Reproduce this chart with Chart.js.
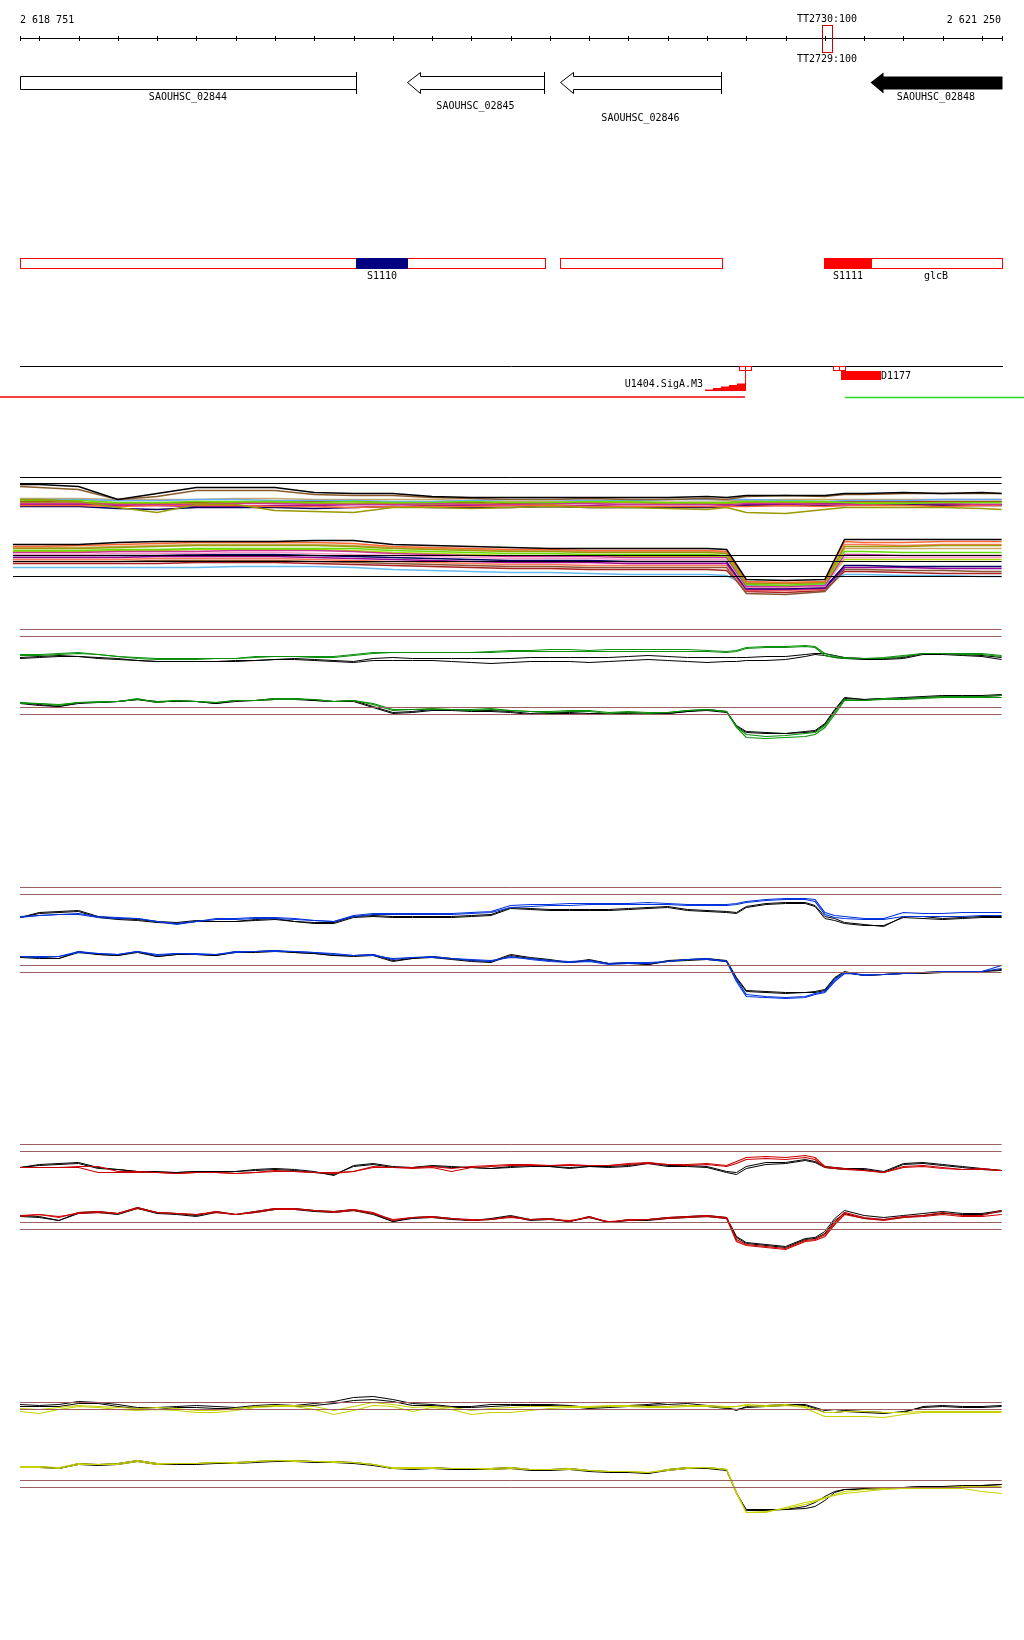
<!DOCTYPE html>
<html><head><meta charset="utf-8">
<script src="https://cdn.jsdelivr.net/npm/chart.js@4.4.0/dist/chart.umd.min.js"></script>
<style>
html,body{margin:0;padding:0;background:#fff;}
body{width:1024px;height:1640px;position:relative;overflow:hidden;}
canvas{position:absolute;left:0;}
</style></head><body>
<canvas id="cTop" width="1024" height="420" style="top:0px"></canvas>
<canvas id="cBundle" width="1024" height="150" style="top:460px"></canvas>
<canvas id="cGreen" width="1024" height="200" style="top:610px"></canvas>
<canvas id="cBlue" width="1024" height="200" style="top:868px"></canvas>
<canvas id="cRed" width="1024" height="200" style="top:1125px"></canvas>
<canvas id="cYellow" width="1024" height="200" style="top:1383px"></canvas>
<script>
// ---------------- DATA ----------------
const viewStart = 2618751, viewEnd = 2621250;
const rulerLabels = ['2 618 751', '2 621 250'];
const rulerTicks = [2618800,2618900,2619000,2619100,2619200,2619300,2619400,2619500,2619600,2619700,2619800,2619900,2620000,2620100,2620200,2620300,2620400,2620500,2620600,2620700,2620800,2620900,2621000,2621100,2621200];
const ttLabels = ['TT2730:100', 'TT2729:100'];
const ttPos = 2620805;

const geneNames = ['SAOUHSC_02844','SAOUHSC_02845','SAOUHSC_02846','SAOUHSC_02848'];
const geneStart = [2618400, 2619736, 2620126, 2620915];
const geneEnd   = [2619606, 2620085, 2620536, 2621600];
const geneFilled = [false, false, false, true];

const tuStart = [2618751, 2620126, 2620798];
const tuEnd   = [2620088, 2620538, 2621250];
const siteNames = ['S1110', 'S1111'];
const siteStart = [2619606, 2620798];
const siteEnd   = [2619739, 2620920];
const regionLabels = ['glcB'];
const regionStart = [2620915];
const regionEnd = [2621250];

const promoterPos = [2620597, 2620836];
const sigAName = 'U1404.SigA.M3';
const sigAPos = 2620597;
const dName = 'D1177';
const dStart = 2620842, dEnd = 2620942;
const redCoverage = [2618600, 2620597];
const greenCoverage = [2620851, 2621400];

// positions (bp) of the profile samples
const posFine = [2618751,2618800,2618850,2618900,2618950,2619000,2619050,2619100,2619150,2619200,2619250,2619300,2619350,2619400,2619450,2619500,2619550,2619600,2619650,2619700,2619750,2619800,2619850,2619900,2619950,2620000,2620050,2620100,2620150,2620200,2620250,2620300,2620350,2620400,2620450,2620500,2620550,2620575,2620600,2620650,2620700,2620750,2620775,2620800,2620825,2620850,2620900,2620950,2621000,2621050,2621100,2621150,2621200,2621250];
const posBundle = [2618751,2618800,2618900,2619000,2619100,2619200,2619300,2619400,2619500,2619600,2619700,2619800,2619900,2620000,2620100,2620200,2620300,2620400,2620500,2620550,2620600,2620700,2620800,2620850,2620900,2621000,2621100,2621200,2621250];
const lowerBundleStart = 2618733;

// bundle thresholds
const bundleUpperLevels = [13.2, 12.6];
const bundleLowerLevels = [5.4, 4.8, 3.3];

// upper bundle series
const bu1 = [12.5,12.5,12.3,11.0,11.6,12.2,12.2,12.2,11.7,11.6,11.6,11.3,11.2,11.2,11.2,11.2,11.2,11.2,11.3,11.2,11.4,11.4,11.4,11.6,11.6,11.7,11.6,11.7,11.6];
const bu2 = [12.3,12.2,12.0,11.0,11.3,11.9,11.9,11.9,11.5,11.4,11.4,11.2,11.1,11.0,11.0,11.1,11.0,11.0,11.1,11.0,11.3,11.4,11.3,11.5,11.5,11.6,11.6,11.6,11.6];
const bu3 = [11.0,11.0,10.8,10.2,9.7,10.5,10.5,9.9,9.8,9.7,10.2,10.2,10.1,10.2,10.3,10.2,10.2,10.1,10.0,10.2,9.7,9.6,10.0,10.2,10.2,10.2,10.2,10.1,10.0];
const bu4 = [10.9,10.9,10.9,10.7,10.7,10.8,10.8,10.8,10.7,10.8,10.7,10.7,10.8,10.7,10.7,10.8,10.8,10.7,10.7,10.7,10.8,10.8,10.8,10.7,10.6,10.6,10.7,10.7,10.7];
const bu5 = [11.0,11.0,11.0,10.9,10.9,11.0,11.0,10.9,10.9,10.9,10.8,10.8,10.9,11.0,11.0,10.9,10.9,11.0,11.0,11.0,11.0,10.9,10.8,10.9,10.9,10.9,11.0,11.0,11.0];
const bu6 = [10.6,10.6,10.6,10.5,10.5,10.5,10.6,10.6,10.5,10.5,10.5,10.6,10.5,10.5,10.6,10.6,10.5,10.5,10.5,10.4,10.6,10.6,10.5,10.5,10.5,10.6,10.6,10.5,10.5];
const bu7 = [10.4,10.4,10.4,10.3,10.4,10.4,10.4,10.3,10.3,10.2,10.3,10.3,10.3,10.4,10.4,10.3,10.3,10.3,10.3,10.3,10.3,10.4,10.3,10.4,10.4,10.4,10.3,10.4,10.4];
const bu8 = [10.3,10.3,10.3,10.1,10.0,10.2,10.2,10.2,10.1,10.2,10.3,10.2,10.2,10.2,10.3,10.2,10.2,10.2,10.2,10.3,10.4,10.4,10.4,10.4,10.5,10.5,10.4,10.4,10.4];
const bu9 = [10.7,10.7,10.7,10.6,10.6,10.6,10.7,10.7,10.6,10.6,10.6,10.5,10.6,10.5,10.5,10.7,10.7,10.6,10.6,10.6,10.7,10.7,10.7,10.7,10.7,10.7,10.7,10.7,10.7];
const bu10 = [10.5,10.5,10.5,10.4,10.4,10.3,10.3,10.4,10.4,10.5,10.5,10.4,10.4,10.4,10.4,10.4,10.5,10.5,10.5,10.5,10.5,10.5,10.6,10.6,10.6,10.6,10.5,10.5,10.5];
const bu11 = [11.1,11.1,11.1,11.0,11.0,11.0,11.1,11.1,11.0,11.0,11.0,11.0,10.9,10.8,10.8,10.9,10.9,11.0,11.0,10.9,10.9,11.0,11.0,11.0,11.0,11.0,11.0,11.0,11.0];
const bu12 = [10.8,10.8,10.7,10.5,10.6,10.7,10.7,10.7,10.8,10.8,10.7,10.7,10.7,10.6,10.6,10.7,10.7,10.7,10.7,10.7,10.8,10.7,10.7,10.8,10.8,10.8,10.8,10.8,10.8];

// lower bundle series
const bl1 = [6.5,6.5,6.5,6.7,6.8,6.8,6.8,6.8,6.9,6.9,6.5,6.4,6.3,6.2,6.1,6.1,6.1,6.1,6.1,6.0,3.0,2.9,3.0,7.0,7.0,7.0,7.0,7.0,7.0];
const bl2 = [6.3,6.3,6.4,6.5,6.6,6.7,6.7,6.7,6.7,6.6,6.3,6.2,6.1,6.0,6.0,5.9,5.9,5.9,5.9,5.8,2.8,2.7,2.8,6.8,6.7,6.7,6.8,6.8,6.8];
const bl3 = [6.1,6.1,6.1,6.2,6.3,6.4,6.4,6.4,6.4,6.3,6.1,6.0,5.9,5.8,5.8,5.7,5.7,5.7,5.7,5.6,2.6,2.6,2.7,6.3,6.3,6.3,6.4,6.4,6.4];
const bl4 = [5.9,5.9,5.9,6.0,6.0,6.1,6.1,6.1,6.1,6.1,5.9,5.8,5.7,5.6,5.6,5.5,5.5,5.5,5.5,5.4,2.5,2.4,2.6,5.8,5.8,5.7,5.7,5.7,5.7];
const bl5 = [5.7,5.7,5.7,5.8,5.8,5.8,5.9,5.9,5.9,5.8,5.6,5.5,5.4,5.3,5.3,5.3,5.2,5.2,5.2,5.2,2.3,2.3,2.4,5.5,5.5,5.4,5.4,5.4,5.4];
const bl6 = [5.5,5.5,5.5,5.6,5.6,5.6,5.7,5.7,5.6,5.5,5.4,5.3,5.2,5.1,5.1,5.1,5.0,5.0,5.0,5.0,2.2,2.2,2.3,5.2,5.2,5.2,5.2,5.2,5.2];
const bl7 = [5.4,5.4,5.4,5.4,5.4,5.5,5.5,5.5,5.4,5.3,5.2,5.1,5.0,4.9,4.9,4.9,4.8,4.8,4.8,4.8,2.1,2.1,2.2,4.4,4.4,4.3,4.3,4.3,4.3];
const bl8 = [5.2,5.2,5.2,5.2,5.3,5.3,5.3,5.3,5.2,5.1,5.0,4.9,4.8,4.7,4.7,4.7,4.6,4.6,4.6,4.6,2.0,2.0,2.1,4.2,4.2,4.2,4.1,4.1,4.1];
const bl9 = [5.0,5.0,5.0,5.0,5.1,5.1,5.1,5.1,5.0,4.9,4.8,4.7,4.6,4.5,4.5,4.4,4.4,4.4,4.4,4.4,1.9,1.9,2.0,6.5,6.5,6.4,6.5,6.5,6.5];
const bl10 = [6.2,6.2,6.2,6.3,6.4,6.5,6.5,6.5,6.5,6.4,6.2,6.1,6.0,5.9,5.9,5.8,5.8,5.8,5.8,5.7,2.7,2.6,2.7,6.1,6.1,6.1,6.1,6.1,6.1];
const bl11 = [4.8,4.8,4.8,4.8,4.9,4.9,4.9,4.9,4.8,4.7,4.6,4.5,4.4,4.3,4.3,4.2,4.2,4.2,4.2,4.2,1.6,1.5,1.8,4.0,4.0,3.9,3.9,3.8,3.8];
const bl12 = [4.2,4.2,4.2,4.2,4.2,4.2,4.3,4.3,4.3,4.2,4.0,3.9,3.8,3.7,3.7,3.6,3.5,3.5,3.5,3.4,2.4,2.4,2.5,3.5,3.5,3.4,3.4,3.3,3.3];
const bl13 = [4.6,4.6,4.6,4.6,4.6,4.7,4.7,4.7,4.6,4.5,4.4,4.3,4.2,4.1,4.1,4.0,4.0,4.0,4.0,3.9,1.8,1.7,1.9,3.8,3.8,3.7,3.6,3.6,3.6];
const bl14 = [5.8,5.8,5.8,5.9,5.9,6.0,6.0,6.0,6.0,5.9,5.7,5.6,5.5,5.4,5.4,5.4,5.3,5.3,5.3,5.3,2.4,2.4,2.5,5.0,5.0,5.0,5.0,5.0,5.0];

// panel thresholds (same for every panel)
const panelThresholds = [18.0, 17.3, 10.2, 9.5];

// green panel
const gUpC1 = [15.5,15.5,15.6,15.7,15.5,15.3,15.2,15.1,15.1,15.1,15.1,15.1,15.3,15.3,15.3,15.3,15.3,15.5,15.7,15.7,15.7,15.7,15.7,15.7,15.8,15.9,15.9,16.0,16.0,15.9,16.0,16.0,16.0,16.0,16.0,15.9,15.8,15.9,16.2,16.3,16.3,16.4,16.3,15.6,15.3,15.2,15.1,15.2,15.4,15.6,15.6,15.6,15.6,15.4];
const gUpC2 = [15.4,15.4,15.5,15.6,15.5,15.3,15.1,15.0,15.0,15.0,15.1,15.1,15.2,15.3,15.3,15.2,15.2,15.4,15.6,15.7,15.7,15.7,15.7,15.7,15.7,15.8,15.8,15.8,15.8,15.8,15.8,15.8,15.8,15.8,15.8,15.8,15.7,15.8,16.1,16.2,16.2,16.3,16.2,15.4,15.2,15.1,15.1,15.1,15.3,15.6,15.6,15.5,15.5,15.3];
const gUpK1 = [15.2,15.3,15.4,15.3,15.2,15.1,14.9,14.8,14.8,14.8,14.8,14.9,14.9,15.0,15.1,15.0,14.9,14.8,15.1,15.2,15.1,15.1,15.1,15.1,15.1,15.1,15.2,15.2,15.2,15.2,15.2,15.3,15.4,15.3,15.2,15.2,15.2,15.2,15.2,15.3,15.3,15.5,15.6,15.6,15.4,15.2,15.1,15.1,15.2,15.6,15.6,15.5,15.4,15.2];
const gUpK2 = [15.1,15.2,15.3,15.3,15.1,15.0,14.9,14.8,14.8,14.8,14.8,14.8,14.9,15.0,15.0,14.9,14.8,14.7,14.9,14.9,14.9,14.9,14.8,14.7,14.6,14.7,14.8,14.8,14.8,14.7,14.8,14.9,15.0,14.9,14.8,14.7,14.8,14.8,14.9,14.9,15.0,15.3,15.5,15.4,15.2,15.1,15.0,15.0,15.1,15.5,15.5,15.4,15.3,15.0];
const gLoC1 = [10.7,10.6,10.4,10.7,10.8,10.8,11.1,10.7,10.9,10.8,10.7,10.9,10.9,11.1,11.1,11.0,10.8,10.9,10.5,9.9,10.0,10.1,10.0,10.0,10.1,9.9,9.8,9.7,9.8,9.8,9.6,9.7,9.6,9.7,9.9,10.0,9.8,8.3,7.5,7.3,7.4,7.6,7.7,8.4,9.7,11.0,10.9,11.1,11.1,11.2,11.3,11.3,11.3,11.4];
const gLoC2 = [10.6,10.6,10.5,10.7,10.7,10.8,11.0,10.8,10.9,10.8,10.7,10.9,10.9,11.0,11.0,11.0,10.8,10.9,10.6,10.0,10.0,10.0,10.0,9.9,10.0,9.9,9.8,9.8,9.9,9.9,9.7,9.8,9.7,9.7,9.9,10.0,9.8,8.2,7.2,7.1,7.2,7.3,7.5,8.2,9.5,10.9,10.9,11.0,11.0,11.1,11.2,11.2,11.2,11.2];
const gLoK1 = [10.7,10.5,10.3,10.7,10.7,10.8,11.0,10.7,10.9,10.8,10.6,10.9,10.9,11.1,11.1,10.9,10.8,10.9,10.3,9.7,9.8,10.0,10.0,9.9,9.9,9.8,9.6,9.7,9.7,9.6,9.6,9.7,9.6,9.6,9.8,10.0,9.8,8.4,7.8,7.7,7.6,7.8,7.9,8.6,10.0,11.2,11.0,11.1,11.2,11.3,11.4,11.4,11.4,11.5];
const gLoK2 = [10.6,10.4,10.3,10.6,10.7,10.8,11.0,10.8,10.8,10.8,10.6,10.8,10.9,11.0,11.0,10.9,10.8,10.8,10.2,9.6,9.7,9.9,9.9,9.8,9.8,9.7,9.5,9.6,9.6,9.5,9.6,9.6,9.5,9.6,9.8,9.9,9.7,8.3,7.7,7.6,7.6,7.7,7.8,8.5,9.9,11.1,11.0,11.1,11.1,11.2,11.3,11.3,11.3,11.4];

// blue panel
const bUpC1 = [15.1,15.2,15.3,15.4,15.1,15.0,14.9,14.6,14.3,14.6,14.9,14.9,15.0,15.0,14.9,14.7,14.6,15.2,15.4,15.4,15.4,15.4,15.4,15.5,15.6,16.2,16.3,16.3,16.4,16.4,16.4,16.4,16.5,16.4,16.3,16.3,16.3,16.4,16.6,16.8,16.9,16.9,16.8,15.5,15.2,15.1,14.9,14.9,15.5,15.4,15.4,15.5,15.5,15.5];
const bUpC2 = [15.0,15.2,15.3,15.3,15.0,14.9,14.9,14.6,14.4,14.6,14.8,14.8,14.9,14.9,14.8,14.7,14.6,15.1,15.3,15.3,15.3,15.3,15.3,15.4,15.5,16.0,16.1,16.2,16.2,16.3,16.3,16.3,16.3,16.3,16.2,16.2,16.2,16.3,16.5,16.7,16.8,16.8,16.6,15.3,15.0,14.9,14.8,14.8,15.1,15.1,15.1,15.1,15.2,15.2];
const bUpK1 = [15.0,15.5,15.6,15.7,15.1,14.9,14.8,14.6,14.5,14.7,14.6,14.6,14.8,14.9,14.6,14.5,14.5,15.1,15.2,15.1,15.1,15.1,15.1,15.2,15.3,16.0,15.9,15.8,15.8,15.8,15.8,15.9,16.0,16.1,15.8,15.7,15.6,15.5,16.1,16.4,16.5,16.5,16.2,15.1,14.9,14.5,14.3,14.1,15.1,15.1,14.9,15.0,15.1,15.1];
const bUpK2 = [15.0,15.4,15.5,15.6,15.0,14.8,14.7,14.5,14.4,14.6,14.6,14.6,14.7,14.8,14.6,14.4,14.4,15.0,15.1,15.0,15.0,15.0,15.0,15.1,15.2,15.9,15.8,15.7,15.7,15.7,15.7,15.8,15.9,16.0,15.7,15.6,15.5,15.4,16.0,16.3,16.4,16.4,16.1,14.9,14.7,14.4,14.2,14.2,15.0,14.9,14.8,14.9,15.0,15.0];
const bLoC1 = [11.1,11.1,11.1,11.6,11.4,11.3,11.6,11.2,11.4,11.4,11.3,11.6,11.6,11.7,11.6,11.5,11.3,11.2,11.3,10.8,11.0,11.1,10.9,10.7,10.6,11.1,10.8,10.6,10.5,10.6,10.3,10.4,10.4,10.6,10.8,10.9,10.6,8.8,7.3,7.1,7.0,7.1,7.4,7.6,8.8,9.5,9.2,9.3,9.4,9.5,9.6,9.6,9.6,10.2];
const bLoC2 = [11.1,11.0,11.1,11.5,11.4,11.3,11.6,11.3,11.4,11.3,11.3,11.5,11.6,11.6,11.6,11.5,11.4,11.2,11.2,10.9,11.0,11.0,10.9,10.8,10.7,11.0,10.9,10.7,10.6,10.7,10.4,10.5,10.5,10.6,10.8,10.8,10.6,8.6,7.1,7.0,6.9,7.0,7.3,7.5,8.6,9.4,9.3,9.3,9.4,9.5,9.5,9.6,9.6,9.9];
const bLoK1 = [11.1,11.0,10.9,11.6,11.3,11.2,11.6,11.1,11.3,11.3,11.2,11.6,11.6,11.7,11.5,11.4,11.2,11.2,11.3,10.7,10.9,11.1,10.9,10.7,10.6,11.3,11.0,10.8,10.5,10.8,10.4,10.5,10.3,10.7,10.8,10.9,10.7,9.0,7.7,7.6,7.5,7.5,7.6,7.8,9.0,9.6,9.2,9.3,9.4,9.5,9.6,9.6,9.6,9.8];
const bLoK2 = [11.0,10.9,10.9,11.5,11.3,11.2,11.5,11.1,11.3,11.3,11.2,11.5,11.5,11.6,11.5,11.4,11.2,11.1,11.2,10.6,10.9,11.0,10.8,10.6,10.5,11.2,10.9,10.7,10.5,10.7,10.4,10.4,10.3,10.6,10.7,10.8,10.6,8.9,7.6,7.5,7.4,7.5,7.5,7.7,8.9,9.5,9.2,9.3,9.4,9.4,9.5,9.6,9.6,9.7];

// red panel
const rUpC1 = [15.7,15.7,15.7,15.8,15.8,15.3,15.3,15.2,15.1,15.2,15.2,15.1,15.2,15.4,15.3,15.2,15.2,15.3,15.8,15.7,15.7,15.8,15.6,15.8,15.9,16.0,16.0,15.9,16.0,15.9,15.9,16.1,16.2,16.0,16.0,16.1,15.9,16.3,16.7,16.8,16.7,16.9,16.7,15.8,15.7,15.6,15.4,15.2,15.8,15.9,15.7,15.5,15.6,15.4];
const rUpC2 = [15.7,15.7,15.7,15.7,15.2,15.2,15.2,15.2,15.1,15.2,15.2,15.1,15.2,15.3,15.3,15.2,15.1,15.3,15.7,15.7,15.6,15.7,15.3,15.7,15.8,15.9,15.9,15.9,15.9,15.9,15.9,16.0,16.1,16.0,15.9,16.0,15.8,16.1,16.5,16.6,16.5,16.7,16.5,15.7,15.6,15.5,15.4,15.2,15.7,15.8,15.6,15.5,15.5,15.4];
const rUpK1 = [15.7,16.0,16.1,16.2,15.7,15.5,15.3,15.2,15.2,15.3,15.3,15.3,15.5,15.6,15.5,15.3,14.9,15.9,16.1,15.8,15.7,15.9,15.8,15.7,15.6,15.8,15.9,15.8,15.7,15.8,15.8,15.9,16.2,15.9,15.9,15.8,15.3,15.2,15.8,16.2,16.2,16.5,16.3,15.8,15.7,15.6,15.6,15.3,16.1,16.2,16.0,15.8,15.6,15.4];
const rUpK2 = [15.7,15.9,16.0,16.1,15.6,15.5,15.3,15.3,15.2,15.3,15.2,15.3,15.4,15.5,15.4,15.2,15.0,15.8,16.0,15.7,15.7,15.8,15.7,15.7,15.6,15.7,15.8,15.8,15.6,15.8,15.7,15.8,16.1,15.8,15.8,15.7,15.2,15.0,15.6,16.0,16.1,16.4,16.2,15.7,15.6,15.5,15.5,15.2,16.0,16.1,15.9,15.7,15.5,15.4];
const rLoC1 = [10.9,11.0,10.7,11.2,11.3,11.1,11.7,11.2,11.1,11.0,11.3,11.0,11.3,11.6,11.6,11.4,11.3,11.5,11.2,10.4,10.7,10.8,10.6,10.4,10.5,10.8,10.5,10.6,10.3,10.8,10.2,10.5,10.5,10.7,10.8,10.9,10.7,8.5,8.0,7.8,7.6,8.4,8.5,9.0,10.2,11.2,10.7,10.5,10.8,10.9,11.2,10.9,10.9,11.4];
const rLoC2 = [10.8,11.0,10.8,11.1,11.2,11.1,11.6,11.2,11.1,11.0,11.2,11.0,11.2,11.5,11.5,11.4,11.2,11.4,11.1,10.5,10.7,10.7,10.6,10.5,10.5,10.7,10.5,10.5,10.4,10.7,10.3,10.4,10.5,10.6,10.7,10.8,10.6,8.3,7.9,7.7,7.5,8.3,8.4,8.8,10.0,11.0,10.6,10.4,10.7,10.8,11.0,10.8,10.8,11.0];
const rLoK1 = [10.9,10.8,10.4,11.2,11.3,11.1,11.7,11.2,11.1,10.9,11.3,11.0,11.3,11.6,11.6,11.4,11.3,11.5,11.1,10.3,10.7,10.8,10.6,10.4,10.6,10.9,10.5,10.6,10.3,10.8,10.2,10.5,10.5,10.7,10.8,10.9,10.7,8.8,8.2,8.0,7.8,8.6,8.7,9.3,10.6,11.4,10.9,10.7,10.9,11.1,11.3,11.1,11.1,11.4];
const rLoK2 = [10.8,10.7,10.4,11.1,11.2,11.0,11.6,11.1,11.0,10.8,11.2,11.0,11.2,11.5,11.5,11.3,11.2,11.4,11.0,10.3,10.6,10.7,10.5,10.4,10.5,10.8,10.4,10.5,10.3,10.7,10.2,10.4,10.4,10.6,10.7,10.8,10.6,8.7,8.1,7.9,7.7,8.5,8.6,9.1,10.4,11.1,10.6,10.5,10.7,10.9,11.1,11.0,11.0,11.3];

// yellow panel
const yUpC1 = [17.1,16.9,17.3,17.6,17.5,17.3,17.2,17.3,17.2,17.0,17.0,17.2,17.5,17.6,17.6,17.3,16.8,17.2,17.7,17.6,17.1,17.5,17.3,16.8,17.0,17.0,17.2,17.4,17.5,17.5,17.6,17.6,17.5,17.5,17.6,17.6,17.5,17.6,17.7,17.6,17.7,17.5,17.0,16.6,16.6,16.6,16.6,16.5,16.8,17.0,17.0,17.0,17.0,17.0];
const yUpC2 = [17.4,17.3,17.5,17.7,17.6,17.5,17.4,17.5,17.4,17.2,17.2,17.4,17.6,17.7,17.7,17.6,17.2,17.6,18.0,17.8,17.5,17.6,17.5,17.2,17.4,17.5,17.6,17.6,17.6,17.6,17.7,17.7,17.6,17.6,17.7,17.7,17.6,17.6,17.8,17.7,17.8,17.6,17.3,17.0,17.0,17.1,17.1,17.0,17.0,17.1,17.1,17.1,17.1,17.1];
const yUpK1 = [17.8,17.7,17.8,18.1,18.0,17.8,17.5,17.5,17.6,17.7,17.6,17.5,17.7,17.8,17.7,17.9,18.1,18.5,18.6,18.3,17.9,17.8,17.6,17.6,17.8,17.8,17.8,17.8,17.7,17.5,17.6,17.7,17.8,18.0,17.9,17.7,17.5,17.2,17.6,17.7,17.8,17.8,17.5,17.2,17.3,17.2,17.1,17.0,17.0,17.6,17.7,17.6,17.6,17.7];
const yUpK2 = [17.6,17.6,17.6,17.9,17.9,17.6,17.4,17.3,17.5,17.5,17.4,17.4,17.6,17.6,17.6,17.7,17.9,18.2,18.3,18.1,17.7,17.7,17.5,17.5,17.6,17.7,17.7,17.7,17.6,17.4,17.5,17.6,17.7,17.8,17.7,17.6,17.4,17.3,17.5,17.6,17.7,17.7,17.4,17.0,17.0,17.1,17.0,16.9,17.1,17.5,17.6,17.5,17.5,17.6];
const yLoC1 = [11.6,11.6,11.5,11.9,11.8,11.9,12.2,11.9,11.9,11.9,12.0,12.0,12.1,12.2,12.2,12.1,12.1,12.0,11.8,11.5,11.5,11.5,11.4,11.4,11.4,11.5,11.3,11.3,11.4,11.2,11.1,11.1,11.0,11.3,11.5,11.5,11.3,9.0,7.0,7.0,7.5,8.0,8.2,8.5,8.7,8.9,9.1,9.3,9.4,9.4,9.4,9.4,9.1,8.9];
const yLoC2 = [11.5,11.5,11.4,11.8,11.8,11.8,12.1,11.8,11.9,11.9,12.0,11.9,12.1,12.2,12.1,12.1,12.0,12.0,11.8,11.4,11.4,11.4,11.4,11.4,11.3,11.4,11.3,11.3,11.3,11.2,11.1,11.1,11.0,11.2,11.4,11.5,11.3,8.9,7.0,7.1,7.4,7.8,8.1,8.4,8.8,9.1,9.3,9.4,9.5,9.5,9.5,9.6,9.6,9.6];
const yLoK1 = [11.6,11.6,11.4,11.9,11.8,11.9,12.2,11.9,11.9,11.9,12.0,12.0,12.1,12.2,12.2,12.1,12.1,12.0,11.8,11.4,11.4,11.5,11.4,11.4,11.4,11.5,11.3,11.3,11.4,11.2,11.1,11.1,10.9,11.3,11.5,11.5,11.3,9.0,7.2,7.2,7.3,7.6,8.0,8.6,9.1,9.3,9.4,9.5,9.5,9.6,9.6,9.6,9.7,9.8];
const yLoK2 = [11.5,11.5,11.4,11.8,11.7,11.8,12.1,11.8,11.8,11.8,11.9,11.9,12.0,12.1,12.1,12.0,12.0,11.9,11.7,11.4,11.3,11.4,11.3,11.3,11.3,11.4,11.2,11.2,11.3,11.1,11.0,11.0,10.9,11.2,11.4,11.4,11.2,8.9,7.3,7.3,7.3,7.4,7.6,8.2,9.0,9.3,9.3,9.4,9.5,9.6,9.6,9.7,9.7,9.8];

// ---------------- STYLE / RENDER ----------------
const SCALE_MIN = 2618700, SCALE_MAX = 2621307;
const BROWN = '#9a5f5f';
const FONT = '10px "DejaVu Sans Mono", monospace';

function pts(xs, ys){ return ys.map((y,i)=>({x: xs[i], y})); }
function lineDs(xs, ys, color, w){
  return {data: pts(xs, ys), borderColor: color, backgroundColor: color, borderWidth: w || 1, pointRadius: 0, fill: false, tension: 0};
}
function hline(x0, x1, v, color){ return lineDs([x0, x1], [v, v], color, 1); }
function opts(ymax){
  // half-pixel shifted range keeps 1px horizontal rules crisp
  return {responsive:false, animation:false, events:[], layout:{padding:0},
    plugins:{legend:{display:false}, tooltip:{enabled:false}, title:{display:false}},
    elements:{point:{radius:0}, line:{tension:0}},
    scales:{x:{type:'linear', min:SCALE_MIN, max:SCALE_MAX, display:false},
            y:{type:'linear', min:-0.05, max:ymax - 0.05, display:false}}};
}

// top annotation tracks
const topPlugin = {
  id: 'genomeTop',
  afterDraw(chart){
    const ctx = chart.ctx, xs = chart.scales.x;
    const X = v => Math.round(xs.getPixelForValue(v));
    const x0 = X(viewStart), x1 = X(viewEnd);
    ctx.save();
    ctx.font = FONT; ctx.textBaseline = 'middle';
    ctx.lineWidth = 1; ctx.strokeStyle = '#000'; ctx.fillStyle = '#000';
    // ruler
    ctx.beginPath(); ctx.moveTo(x0, 38.5); ctx.lineTo(x1 + 1, 38.5);
    [viewStart, ...rulerTicks, viewEnd].forEach(t => { const x = X(t) + 0.5; ctx.moveTo(x, 36); ctx.lineTo(x, 41); });
    ctx.stroke();
    ctx.textAlign = 'left'; ctx.fillText(rulerLabels[0], x0, 20);
    ctx.textAlign = 'right'; ctx.fillText(rulerLabels[1], x1 - 1, 20);
    ctx.textAlign = 'center';
    ctx.fillText(ttLabels[0], X(ttPos), 19);
    ctx.fillText(ttLabels[1], X(ttPos), 59);
    ctx.strokeStyle = '#cc0000';
    ctx.strokeRect(X(ttPos) - 5 + 0.5, 25.5, 10, 27);
    // genes
    const labelY = [97, 106.5, 118, 97];
    geneNames.forEach((name, i) => {
      const tip = X(geneStart[i]), e = X(geneEnd[i]);
      const xl = Math.max(tip, x0), xr = Math.min(e, x1);
      const head = 13;
      ctx.beginPath();
      if (tip >= x0) {
        ctx.moveTo(tip + 0.5, 82.5);
        ctx.lineTo(tip + head + 0.5, 72.5); ctx.lineTo(tip + head + 0.5, 76.5);
        ctx.lineTo(xr + 0.5, 76.5); ctx.lineTo(xr + 0.5, 89.5);
        ctx.lineTo(tip + head + 0.5, 89.5); ctx.lineTo(tip + head + 0.5, 93.5);
        ctx.closePath();
      } else {
        ctx.rect(xl + 0.5, 76.5, xr - xl, 13);
      }
      ctx.strokeStyle = '#000';
      if (geneFilled[i]) { ctx.fillStyle = '#000'; ctx.fill(); }
      else { ctx.fillStyle = '#fff'; ctx.fill(); ctx.stroke(); }
      if (e <= x1) { ctx.beginPath(); ctx.moveTo(xr + 0.5, 72); ctx.lineTo(xr + 0.5, 94); ctx.stroke(); }
      ctx.fillStyle = '#000'; ctx.textAlign = 'center';
      ctx.fillText(name, (xl + xr) / 2, labelY[i]);
    });
    // transcription units
    const siteColors = ['#000080', '#ff0000'];
    tuStart.forEach((s, i) => {
      const xl = Math.max(X(s), x0), xr = Math.min(X(tuEnd[i]), x1);
      ctx.strokeStyle = '#ff0000';
      ctx.strokeRect(xl + 0.5, 258.5, xr - xl, 10);
    });
    siteNames.forEach((n, i) => {
      const xl = X(siteStart[i]), xr = X(siteEnd[i]);
      ctx.fillStyle = siteColors[i];
      ctx.fillRect(xl, 258, xr - xl, 11);
      ctx.fillStyle = '#000'; ctx.textAlign = 'center';
      ctx.fillText(n, (xl + xr) / 2, 276);
    });
    regionLabels.forEach((n, i) => {
      const xl = Math.max(X(regionStart[i]), x0), xr = Math.min(X(regionEnd[i]), x1);
      ctx.fillStyle = '#000'; ctx.textAlign = 'center';
      ctx.fillText(n, (xl + xr) / 2, 276);
    });
    // promoter / terminator track
    ctx.strokeStyle = '#000';
    ctx.beginPath(); ctx.moveTo(x0, 366.5); ctx.lineTo(x1 + 1, 366.5); ctx.stroke();
    ctx.strokeStyle = '#ff0000';
    promoterPos.forEach(p => {
      const xp = X(p);
      ctx.strokeRect(xp - 6 + 0.5, 366.5, 6, 4);
      ctx.strokeRect(xp + 0.5, 366.5, 6, 4);
    });
    const xs0 = X(sigAPos);
    ctx.beginPath(); ctx.moveTo(xs0 + 0.5, 367); ctx.lineTo(xs0 + 0.5, 391); ctx.stroke();
    ctx.fillStyle = '#ff0000';
    for (let k = 0; k < 5; k++) {
      const h = (k + 1) * 1.5;
      ctx.fillRect(xs0 - 40 + k * 8, 391 - h, 8, h);
    }
    ctx.fillStyle = '#000'; ctx.textAlign = 'right';
    ctx.fillText(sigAName, xs0 - 42, 384);
    ctx.fillStyle = '#ff0000';
    ctx.fillRect(X(dStart), 371, X(dEnd) - X(dStart), 9);
    ctx.fillStyle = '#000'; ctx.textAlign = 'left';
    ctx.fillText(dName, X(dEnd), 376);
    // coverage lines
    ctx.lineWidth = 1.5;
    ctx.strokeStyle = '#ff0000';
    ctx.beginPath(); ctx.moveTo(X(redCoverage[0]), 397); ctx.lineTo(X(redCoverage[1]), 397); ctx.stroke();
    ctx.strokeStyle = '#22dd22';
    ctx.beginPath(); ctx.moveTo(X(greenCoverage[0]), 397.5); ctx.lineTo(X(greenCoverage[1]), 397.5); ctx.stroke();
    ctx.restore();
  }
};
new Chart(document.getElementById('cTop'), {type:'line', data:{datasets:[]}, options: opts(1), plugins:[topPlugin]});

// bundle chart
(function(){
  const ds = [];
  bundleUpperLevels.forEach(v => ds.push(hline(viewStart, viewEnd, v, '#000')));
  bundleLowerLevels.forEach(v => ds.push(hline(lowerBundleStart, viewEnd, v, '#000')));
  const upper = [bu1,bu2,bu3,bu4,bu5,bu6,bu7,bu8,bu9,bu10,bu11,bu12];
  const upperColors = ['#000000','#8b5a2b','#999900','#66dd00','#66aaff','#cc3399','#ff6633','#000066','#a8a800','#990099','#ccaa66','#aa2200'];
  const lower = [bl1,bl2,bl3,bl4,bl5,bl6,bl7,bl8,bl9,bl10,bl11,bl12,bl13,bl14];
  const lowerColors = ['#000000','#ff6633','#999900','#66dd00','#cc3399','#ff99cc','#000066','#990099','#ff7755','#ccaa66','#885533','#66bbee','#aa2222','#aadd00'];
  const posLower = [lowerBundleStart, ...posBundle.slice(1)];
  upper.forEach((s, i) => ds.push(lineDs(posBundle, s, upperColors[i], 1.5)));
  lower.forEach((s, i) => ds.push(lineDs(posLower, s, lowerColors[i], 1.5)));
  new Chart(document.getElementById('cBundle'), {type:'line', data:{datasets: ds}, options: opts(15)});
})();

// expression panels
function panel(id, color, colored, black){
  const ds = [];
  panelThresholds.forEach(v => ds.push(hline(viewStart, viewEnd, v, BROWN)));
  colored.forEach(s => ds.push(lineDs(posFine, s, color, 1.2)));
  black.forEach(s => ds.push(lineDs(posFine, s, '#000000', 1)));
  new Chart(document.getElementById(id), {type:'line', data:{datasets: ds}, options: opts(20)});
}
panel('cGreen', '#0a900a', [gUpC1, gUpC2, gLoC1, gLoC2], [gUpK1, gUpK2, gLoK1, gLoK2]);
panel('cBlue', '#0033dd', [bUpC1, bUpC2, bLoC1, bLoC2], [bUpK1, bUpK2, bLoK1, bLoK2]);
panel('cRed', '#cc0000', [rUpC1, rUpC2, rLoC1, rLoC2], [rUpK1, rUpK2, rLoK1, rLoK2]);
panel('cYellow', '#c8d200', [yUpC1, yUpC2, yLoC1, yLoC2], [yUpK1, yUpK2, yLoK1, yLoK2]);
</script>
</body></html>
